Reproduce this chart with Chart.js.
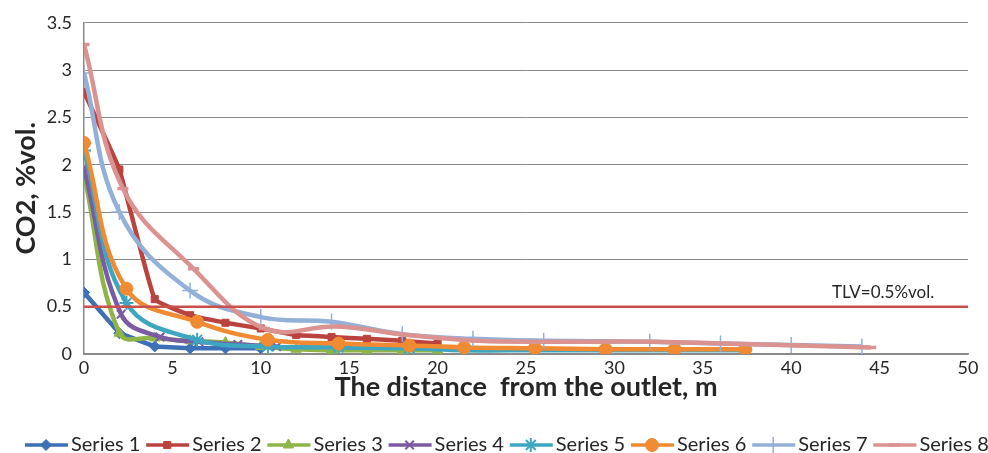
<!DOCTYPE html>
<html>
<head>
<meta charset="utf-8">
<script src="https://cdn.jsdelivr.net/npm/chart.js@4/dist/chart.umd.min.js"></script>
<style>
  html, body { margin: 0; padding: 0; background: #ffffff; }
  #wrap { width: 988px; height: 453px; position: relative; }
</style>
</head>
<body>
<div id="wrap"><canvas id="c"></canvas></div>
<script>
// Distances from the outlet (m) and CO2 concentrations (% vol.) for each series
const s1X = [0, 2, 4, 6, 8, 10];
const s1Y = [0.65, 0.22, 0.08, 0.06, 0.06, 0.06];

const s2X = [0, 2, 4, 6, 8, 10, 12, 14, 16, 18, 20];
const s2Y = [2.77, 1.95, 0.58, 0.41, 0.33, 0.27, 0.2, 0.18, 0.16, 0.14, 0.11];

const s3X = [0, 2, 4, 6, 8, 10, 12, 14, 16, 18, 20];
const s3Y = [1.9, 0.22, 0.17, 0.14, 0.12, 0.08, 0.05, 0.04, 0.04, 0.04, 0.04];

const s4X = [0, 2.1, 4.3, 6.5, 8.7, 10.9];
const s4Y = [1.97, 0.42, 0.18, 0.13, 0.1, 0.08];

const s5X = [0, 2.4, 6.4, 10.4, 14.4, 18.4, 21.5, 25.5, 29.5, 33.4, 37.4];
const s5Y = [2.15, 0.54, 0.15, 0.08, 0.07, 0.06, 0.04, 0.04, 0.04, 0.04, 0.04];

const s6X = [0, 2.4, 6.4, 10.4, 14.4, 18.4, 21.5, 25.5, 29.5, 33.4, 37.4];
const s6Y = [2.23, 0.69, 0.34, 0.15, 0.11, 0.09, 0.07, 0.06, 0.05, 0.05, 0.05];

const s7X = [0, 2, 6, 10, 14, 18, 22, 26, 32, 36, 40, 44];
const s7Y = [2.97, 1.5, 0.67, 0.39, 0.34, 0.21, 0.16, 0.14, 0.13, 0.11, 0.095, 0.08];

const s8X = [0, 2.2, 6.2, 10.2, 14.3, 18.3, 22.3, 26.3, 32.3, 36.3, 40.4, 44.5];
const s8Y = [3.27, 1.75, 0.9, 0.27, 0.29, 0.2, 0.14, 0.13, 0.13, 0.11, 0.09, 0.07];

const seriesNames = ['Series 1', 'Series 2', 'Series 3', 'Series 4', 'Series 5', 'Series 6', 'Series 7', 'Series 8'];

// Threshold limit value
const tlvValue = 0.5;
const tlvLabel = 'TLV=0.5%vol.';
const tlvLabelAt = 45.2;

// Axis ranges and tick steps
const xMin = 0, xMax = 50, xStep = 5;
const yMin = 0, yMax = 3.5, yStep = 0.5;

const xTitle = 'The distance  from the outlet, m';
const yTitle = 'CO2, %vol.';

// ---- styling ----
const colors = ['#3d70b6', '#bb433f', '#8fb548', '#7b5ba1', '#3ea6c1', '#f08b33', '#93b0d8', '#da9391'];
const markers = ['rectRot', 'rect', 'triangle', 'crossRot', 'star', 'circle', 'cross', 'line'];
const markerSize = [5.5, 5, 6, 6, 7, 6.5, 8, 5.5];
const markerBorder = [1, 1, 1, 2, 2, 1, 1.5, 3.5];
const tensions = [0, 0.1, 0.4, 0.4, 0.4, 0.4, 0.4, 0.4];

const xs = [s1X, s2X, s3X, s4X, s5X, s6X, s7X, s8X];
const ys = [s1Y, s2Y, s3Y, s4Y, s5Y, s6Y, s7Y, s8Y];

const toPoints = (xArr, yArr) => xArr.map((x, i) => ({ x: x, y: yArr[i] }));

const datasets = seriesNames.map((name, i) => ({
  label: name,
  data: toPoints(xs[i], ys[i]),
  showLine: true,
  borderColor: colors[i],
  backgroundColor: colors[i],
  borderWidth: 4.5,
  tension: tensions[i],
  pointStyle: markers[i],
  pointRadius: markerSize[i],
  pointBorderWidth: markerBorder[i],
  pointBackgroundColor: colors[i],
  pointBorderColor: colors[i],
  order: 20 - i
}));

datasets.push({
  label: 'TLV',
  data: [{ x: xMin, y: tlvValue }, { x: xMax, y: tlvValue }],
  showLine: true,
  borderColor: '#c9504c',
  borderWidth: 2.5,
  pointRadius: 0,
  tension: 0,
  order: 0,
  isTlv: true
});

const FONT = 'Lato, "Liberation Sans", sans-serif';
const TEXT = '#262626';
const GRID = '#8a8a8a';

// Text label above the threshold line
const tlvTextPlugin = {
  id: 'tlvText',
  afterDatasetsDraw(chart) {
    const { ctx, scales } = chart;
    const x = scales.x.getPixelForValue(tlvLabelAt);
    const y = scales.y.getPixelForValue(tlvValue);
    ctx.save();
    ctx.font = '17px ' + FONT;
    ctx.fillStyle = TEXT;
    ctx.textAlign = 'center';
    ctx.textBaseline = 'middle';
    ctx.fillText(tlvLabel, x, y - 14);
    ctx.restore();
  }
};

// Legend row under the chart: line sample with marker, then the series name
const legendRowPlugin = {
  id: 'legendRow',
  afterDraw(chart) {
    const { ctx } = chart;
    const rowY = 445;
    const firstText = 71;
    const pitch = 121.2;
    ctx.save();
    chart.data.datasets.forEach((ds, i) => {
      if (ds.isTlv) return;
      const tx = firstText + pitch * i;
      ctx.strokeStyle = ds.borderColor;
      ctx.lineWidth = 3.5;
      ctx.beginPath();
      ctx.moveTo(tx - 46, rowY);
      ctx.lineTo(tx - 3, rowY);
      ctx.stroke();
      ctx.fillStyle = ds.pointBackgroundColor;
      ctx.strokeStyle = ds.pointBorderColor;
      ctx.lineWidth = ds.pointBorderWidth;
      Chart.helpers.drawPoint(ctx, { pointStyle: ds.pointStyle, radius: ds.pointRadius, rotation: 0, borderWidth: ds.pointBorderWidth }, tx - 25, rowY);
      ctx.font = '20px ' + FONT;
      ctx.fillStyle = TEXT;
      ctx.textAlign = 'left';
      ctx.textBaseline = 'middle';
      ctx.fillText(ds.label, tx, rowY);
    });
    ctx.restore();
  }
};

new Chart(document.getElementById('c'), {
  type: 'scatter',
  data: { datasets: datasets },
  plugins: [tlvTextPlugin, legendRowPlugin],
  options: {
    responsive: true,
    maintainAspectRatio: false,
    animation: false,
    layout: { padding: { left: 2, right: 20, top: 18, bottom: 50 } },
    plugins: {
      legend: { display: false },
      tooltip: { enabled: false }
    },
    scales: {
      x: {
        type: 'linear',
        min: xMin,
        max: xMax,
        ticks: { stepSize: xStep, color: TEXT, font: { family: FONT, size: 18 }, padding: 3, maxRotation: 0, callback: v => String(v) },
        grid: { display: false, drawTicks: false },
        border: { display: true, color: GRID, width: 1.5 },
        title: { display: true, text: xTitle, color: TEXT, font: { family: FONT, size: 27, weight: 'bold' }, padding: { top: 2, bottom: 0 } },
        afterFit(scale) { scale.height = 49; }
      },
      y: {
        type: 'linear',
        min: yMin,
        max: yMax,
        ticks: { stepSize: yStep, color: TEXT, font: { family: FONT, size: 18 }, padding: 12, callback: v => String(v) },
        grid: { display: true, color: GRID, lineWidth: 1, drawTicks: false },
        border: { display: true, color: GRID, width: 1.5 },
        title: { display: true, text: yTitle, color: TEXT, font: { family: FONT, size: 27, weight: 'bold' }, padding: { top: 8, bottom: 0 } },
        afterFit(scale) { scale.width = 82; }
      }
    }
  }
});
</script>
</body>
</html>
